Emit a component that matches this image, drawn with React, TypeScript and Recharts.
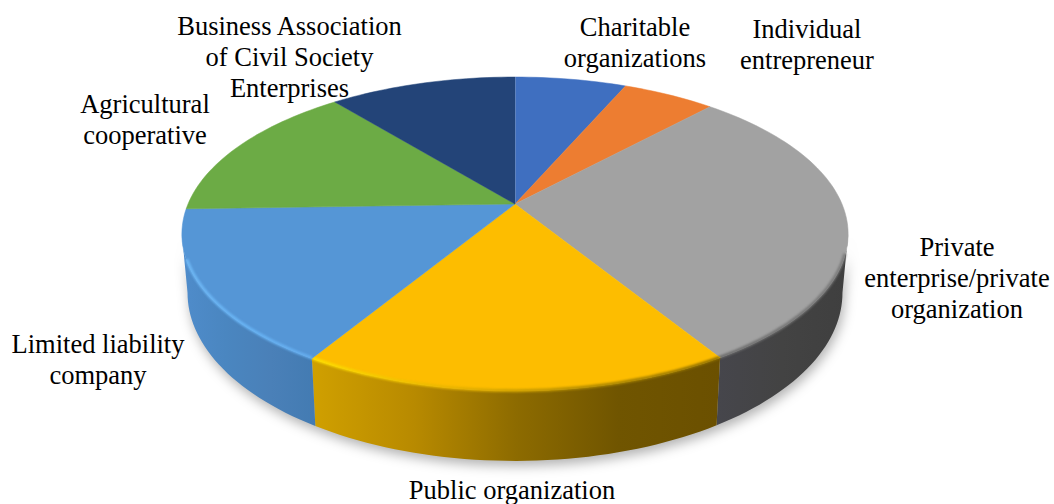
import React from "react";
import { PieChart, Pie } from "recharts";

const categories = [
  "Charitable organizations",
  "Individual entrepreneur",
  "Private enterprise/private organization",
  "Public organization",
  "Limited liability company",
  "Agricultural cooperative",
  "Business Association of Civil Society Enterprises",
];
const shares = [6.5, 5.4, 29.3, 17.5, 15.8, 14.6, 10.9];
const labelLines = [
  ["Charitable", "organizations"],
  ["Individual", "entrepreneur"],
  ["Private", "enterprise/private", "organization"],
  ["Public organization"],
  ["Limited liability", "company"],
  ["Agricultural", "cooperative"],
  ["Business Association", "of Civil Society", "Enterprises"],
];
const topColors = ["#3f6fc0", "#ed7d31", "#a2a2a2", "#fdbd00", "#5596d6", "#6cab45", "#234478"];
const wallStops = [
  ["#3a66b0", "#3a66b0"],
  ["#c86a28", "#c86a28"],
  ["#46464c", "#434343", "#3f3f3f"],
  ["#d0a000", "#b88a00", "#8d6b00", "#705500", "#6b5000"],
  ["#4f8ccb", "#4a86c0", "#4a80b8", "#437bb2"],
  ["#5f9a3c", "#5f9a3c"],
  ["#1f3a66", "#1f3a66"],
];
const rimStops = [
  ["#5a8ae0", "#5a8ae0"],
  ["#f59a50", "#f59a50"],
  ["#6a6a6a", "#7a7a7a"],
  ["#ffe000", "#e8b400", "#b08a00", "#8a6c00"],
  ["#6fb8f5", "#68b4f5", "#66aeef"],
  ["#80c050", "#80c050"],
  ["#30558f", "#30558f"],
];
const labelAnchors = [
  [635, 36],
  [807, 38],
  [957, 256],
  [512, 499],
  [98, 353],
  [145, 113],
  [289.5, 35],
];

const tableRows = categories.map((name, i) => ({ name, value: shares[i] }));

const TILT_K = 0.191;
const SQUASH = 0.4625;
const DEPTH = 56.6;
const BASE_NARROW = 0.983;
const WALL_FROM = 101;
const WALL_TO = 259;
const RIM_FROM = 108;
const RIM_TO = 250;
const LINE_H = 31;
const FONT_SIZE = 26.5;

const project = (cx: number, cy: number, r: number, theta: number, drop = false) => {
  const t = (theta * Math.PI) / 180;
  const w = 1 + TILT_K * Math.cos(t);
  const x = (r * Math.sin(t)) / w;
  return {
    x: cx + (drop ? x * BASE_NARROW : x),
    y: cy - (r * SQUASH * Math.cos(t)) / w + (drop ? DEPTH / w : 0),
  };
};

const arcPts = (cx: number, cy: number, r: number, a: number, b: number, drop = false) => {
  const n = Math.max(2, Math.ceil(Math.abs(b - a) / 1.5));
  const pts: { x: number; y: number }[] = [];
  for (let i = 0; i <= n; i++) pts.push(project(cx, cy, r, a + ((b - a) * i) / n, drop));
  return pts;
};
const toD = (pts: { x: number; y: number }[]) =>
  pts.map((p, i) => `${i ? "L" : "M"}${p.x.toFixed(2)} ${p.y.toFixed(2)}`).join(" ");

const Grad = ({ id, stops }: { id: string; stops: string[] }) => (
  <linearGradient id={id} x1="0" y1="0" x2="1" y2="0">
    {stops.map((c, i) => (
      <stop key={i} offset={i / (stops.length - 1)} stopColor={c} />
    ))}
  </linearGradient>
);

const seriesIndex = (p: any) => categories.indexOf(p.name ?? p.payload?.name);

const WallShape = (p: any) => {
  const i = seriesIndex(p);
  const a = Math.max(90 - p.startAngle, WALL_FROM);
  const b = Math.min(90 - p.endAngle, WALL_TO);
  if (b <= a) return <g />;
  const top = arcPts(p.cx, p.cy, p.outerRadius, a, b);
  const bottom = arcPts(p.cx, p.cy, p.outerRadius, b, a, true);
  return (
    <g>
      <defs>
        <Grad id={`wall${i}`} stops={wallStops[i]} />
      </defs>
      <path d={toD([...top, ...bottom]) + " Z"} fill={`url(#wall${i})`} />
    </g>
  );
};

const TopShape = (p: any) => {
  const i = seriesIndex(p);
  const a = 90 - p.startAngle;
  const b = 90 - p.endAngle;
  const rim = arcPts(p.cx, p.cy, p.outerRadius, a, b);
  const ra = Math.max(a, RIM_FROM);
  const rb = Math.min(b, RIM_TO);
  const apex = { x: p.cx, y: p.cy };
  return (
    <g>
      <defs>
        <Grad id={`rim${i}`} stops={rimStops[i]} />
      </defs>
      <path d={toD([apex, ...rim]) + " Z"} fill={topColors[i]} stroke={topColors[i]} strokeWidth={0.5} />
      {rb > ra && (
        <path
          d={toD(arcPts(p.cx, p.cy, p.outerRadius - 0.5, ra, rb))}
          fill="none"
          stroke={`url(#rim${i})`}
          strokeWidth={3}
          style={{ filter: "blur(1.2px)" }}
        />
      )}
      {i === 0 && <path d={toD([apex, rim[0]])} stroke="#a9c0e6" strokeWidth={1} fill="none" />}
    </g>
  );
};

const renderLabel = (p: any) => {
  const i = p.index;
  return (
    <text
      key={i}
      x={labelAnchors[i][0]}
      y={labelAnchors[i][1]}
      textAnchor="middle"
      fontFamily="'Liberation Serif', serif"
      fontSize={FONT_SIZE}
      fill="#000"
    >
      {labelLines[i].map((line, j) => (
        <tspan key={j} x={labelAnchors[i][0]} dy={j ? LINE_H : 0}>
          {line}
        </tspan>
      ))}
    </text>
  );
};

export default function App() {
  return (
    <div style={{ position: "absolute", left: 0, top: 0, width: 1054, height: 504, background: "#fff" }}>
      <style>{`.walls{filter:drop-shadow(2px 5px 6px rgba(0,0,0,.3));}`}</style>
      <PieChart width={1054} height={504} margin={{ top: 0, right: 0, bottom: 0, left: 0 }}>
        <Pie
          data={tableRows}
          dataKey="value"
          nameKey="name"
          className="walls"
          cx={515}
          cy={204}
          outerRadius={327}
          startAngle={90}
          endAngle={-270}
          stroke="none"
          shape={WallShape}
          label={false}
          labelLine={false}
          isAnimationActive={false}
        />
        <Pie
          data={tableRows}
          dataKey="value"
          nameKey="name"
          cx={515}
          cy={204}
          outerRadius={327}
          startAngle={90}
          endAngle={-270}
          stroke="none"
          shape={TopShape}
          label={renderLabel}
          labelLine={false}
          isAnimationActive={false}
        />
      </PieChart>
    </div>
  );
}
